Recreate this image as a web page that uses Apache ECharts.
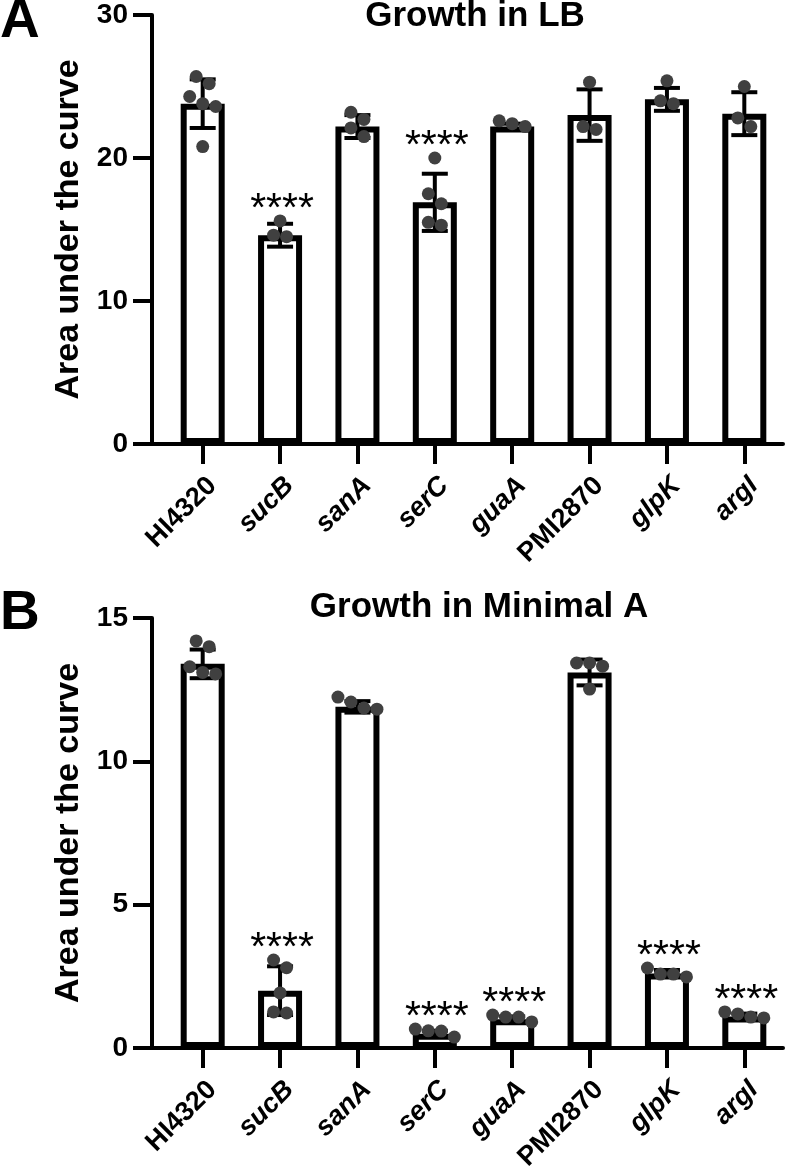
<!DOCTYPE html>
<html>
<head>
<meta charset="utf-8">
<script src="https://cdn.jsdelivr.net/npm/echarts@6/dist/echarts.min.js"></script>
<style>
  html, body { margin: 0; padding: 0; background: #fff; }
  #chart { width: 799px; height: 1176px; }
</style>
</head>
<body>
<div id="chart"></div>
<script>
// ---------------- DATA ----------------
const categories = ['HI4320', 'sucB', 'sanA', 'serC', 'guaA', 'PMI2870', 'glpK', 'argI'];
const italicLabel = [false, true, true, true, true, false, true, true];

// Panel A: Growth in LB
const lbTitle = 'Growth in LB';
const lbTicks = [0, 10, 20, 30];
const lbMeans = [23.8, 14.6, 22.2, 16.9, 22.2, 23.0, 24.1, 23.1];
const lbSD    = [1.7, 0.8, 0.8, 2.0, 0.2, 1.8, 0.8, 1.5];
const lbPoints = [
  [25.7, 25.2, 24.3, 23.8, 23.6, 20.8],
  [15.6, 14.5, 14.6],
  [22.7, 23.2, 22.1, 21.5],
  [20.0, 17.5, 16.8, 15.3, 15.5],
  [22.2, 22.6, 22.4],
  [25.3, 22.0, 22.2],
  [25.4, 23.8, 24.0],
  [25.0, 22.2, 22.8]
];
const lbStars = ['', '****', '', '****', '', '', '', ''];

// Panel B: Growth in Minimal A
const minTitle = 'Growth in Minimal A';
const minTicks = [0, 5, 10, 15];
const minMeans = [13.4, 2.0, 11.9, 0.5, 1.0, 13.1, 2.6, 1.1];
const minSD    = [0.5, 0.85, 0.2, 0.1, 0.1, 0.45, 0.12, 0.1];
const minPoints = [
  [14.2, 14.0, 13.3, 13.05, 13.1],
  [3.07, 2.8, 1.92, 1.22, 1.26],
  [12.24, 12.07, 11.82, 11.86],
  [0.38, 0.66, 0.59, 0.6],
  [0.91, 1.15, 1.08, 1.08],
  [13.43, 13.32, 13.43, 12.52],
  [2.48, 2.79, 2.58, 2.58],
  [1.05, 1.26, 1.08, 1.19]
];
const minStars = ['', '****', '', '****', '****', '', '****', '****'];

const yName = 'Area under the curve';
const panelLetters = ['A', 'B'];

// ---------------- LAYOUT ----------------
const FONT = '"Liberation Sans", Arial, Helvetica, sans-serif';
const AXIS_LEFT = 152, BAR_LEFT = 164, RIGHT_EDGE = 783;
const DOT_D = 13;
const panels = [
  { top: 15, height: 429, ticks: lbTicks, means: lbMeans, sd: lbSD, points: lbPoints, stars: lbStars, title: lbTitle, titleX: 475, titleY: 16, letterY: 22 },
  { top: 618, height: 430, ticks: minTicks, means: minMeans, sd: minSD, points: minPoints, stars: minStars, title: minTitle, titleX: 479, titleY: 607, letterY: 614 }
];

function layoutDots(vals, pxPerUnit) {
  const order = vals.map((v, i) => i).sort((a, b) => vals[b] - vals[a]);
  const rows = [];
  let cur = null;
  order.forEach(i => {
    if (cur && (cur.start - vals[i]) * pxPerUnit < DOT_D * 0.95) {
      cur.items.push(i);
    } else {
      cur = { start: vals[i], items: [i] };
      rows.push(cur);
    }
  });
  const out = [];
  rows.forEach(r => {
    const n = r.items.length;
    r.items.forEach((i, k) => out.push([vals[i], (k - (n - 1) / 2) * DOT_D]));
  });
  return out;
}

const grid = [], xAxis = [], yAxis = [], series = [], graphic = [];
panels.forEach((p, pi) => {
  const max = p.ticks[p.ticks.length - 1];
  const interval = p.ticks[1] - p.ticks[0];
  const gA = pi * 2, gB = pi * 2 + 1;
  grid.push({ left: AXIS_LEFT, top: p.top, width: RIGHT_EDGE - AXIS_LEFT, height: p.height });
  grid.push({ left: BAR_LEFT, top: p.top, width: RIGHT_EDGE - BAR_LEFT, height: p.height });

  // axis grid: x line and y axis
  xAxis.push({ type: 'value', gridIndex: gA, min: 0, max: 1,
    axisLine: { show: true, lineStyle: { color: '#000', width: 4 } },
    axisTick: { show: false }, axisLabel: { show: false }, splitLine: { show: false } });
  yAxis.push({ type: 'value', gridIndex: gA, min: 0, max: max, interval: interval,
    name: yName, nameLocation: 'middle', nameGap: 64, nameRotate: 90,
    nameTextStyle: { fontSize: 34, fontWeight: 'bold', fontFamily: FONT, color: '#000' },
    axisLine: { show: true, lineStyle: { color: '#000', width: 4 } },
    axisTick: { show: true, length: 19, lineStyle: { color: '#000', width: 4 } },
    axisLabel: { margin: 24, fontSize: 28, fontWeight: 'bold', fontFamily: FONT, color: '#000' },
    splitLine: { show: false } });

  // bar grid
  xAxis.push({ type: 'category', gridIndex: gB, data: categories,
    axisLine: { show: false },
    axisTick: { show: true, alignWithLabel: true, interval: 0, length: 20, lineStyle: { color: '#000', width: 4 } },
    axisLabel: { interval: 0, rotate: 45, margin: 28, align: 'right', verticalAlign: 'top',
      formatter: (v, i) => (italicLabel[i] ? '{i|' + v + '}' : '{n|' + v + '}'),
      rich: {
        i: { fontSize: 27, fontWeight: 'bold', fontStyle: 'italic', fontFamily: FONT, color: '#000' },
        n: { fontSize: 27, fontWeight: 'bold', fontFamily: FONT, color: '#000' }
      } },
    splitLine: { show: false } });
  yAxis.push({ type: 'value', gridIndex: gB, min: 0, max: max, show: false });

  series.push({ type: 'bar', xAxisIndex: gB, yAxisIndex: gB, data: p.means, barWidth: 44, z: 2,
    itemStyle: { color: '#fff', borderColor: '#000', borderWidth: 6 }, silent: true });

  series.push({ type: 'custom', xAxisIndex: gB, yAxisIndex: gB, z: 3, silent: true,
    data: p.means.map((m, i) => [i, m, p.sd[i]]),
    renderItem: (params, api) => {
      const x = api.value(0), m = api.value(1), s = api.value(2);
      const t = api.coord([x, m + s]), b = api.coord([x, m - s]);
      const st = { stroke: '#000', lineWidth: 4 };
      return { type: 'group', children: [
        { type: 'line', shape: { x1: t[0], y1: t[1], x2: b[0], y2: b[1] }, style: st },
        { type: 'line', shape: { x1: t[0] - 13, y1: t[1], x2: t[0] + 13, y2: t[1] }, style: st },
        { type: 'line', shape: { x1: b[0] - 13, y1: b[1], x2: b[0] + 13, y2: b[1] }, style: st }
      ] };
    } });

  const pxPerUnit = p.height / max;
  const dotData = [];
  p.points.forEach((vals, i) => {
    layoutDots(vals, pxPerUnit).forEach(d => dotData.push([i, d[0], d[1]]));
  });
  series.push({ type: 'custom', xAxisIndex: gB, yAxisIndex: gB, z: 4, silent: true,
    data: dotData,
    renderItem: (params, api) => {
      const c = api.coord([api.value(0), api.value(1)]);
      return { type: 'circle', shape: { cx: c[0] + api.value(2), cy: c[1], r: DOT_D / 2 }, style: { fill: '#404040' } };
    } });

  const starData = p.means.map((m, i) => {
    const pmax = Math.max.apply(null, p.points[i]);
    return [i, pmax, m + p.sd[i]];
  });
  const stars = p.stars;
  series.push({ type: 'custom', xAxisIndex: gB, yAxisIndex: gB, z: 5, silent: true,
    data: starData,
    renderItem: (params, api) => {
      const i = api.value(0);
      if (!stars[i]) return null;
      const pp = api.coord([i, api.value(1)]);
      const ep = api.coord([i, api.value(2)]);
      const topY = Math.min(pp[1] - DOT_D / 2, ep[1] - 2);
      return { type: 'text', style: { text: stars[i], x: pp[0] + 2, y: topY - 5,
        align: 'center', verticalAlign: 'middle', fontSize: 41, fontFamily: FONT, fill: '#000' } };
    } });

  graphic.push({ type: 'text', x: p.titleX, y: p.titleY, silent: true,
    style: { text: p.title, align: 'center', verticalAlign: 'middle', fontSize: 35, fontWeight: 'bold', fontFamily: FONT, fill: '#000' } });
  graphic.push({ type: 'text', x: 0, y: p.letterY, silent: true,
    style: { text: panelLetters[pi], align: 'left', verticalAlign: 'middle', fontSize: 55, fontWeight: 'bold', fontFamily: FONT, fill: '#000' } });
});

const chart = echarts.init(document.getElementById('chart'), null, { renderer: 'canvas' });
chart.setOption({
  backgroundColor: '#fff',
  animation: false,
  grid: grid, xAxis: xAxis, yAxis: yAxis, series: series, graphic: graphic
});
</script>
</body>
</html>
